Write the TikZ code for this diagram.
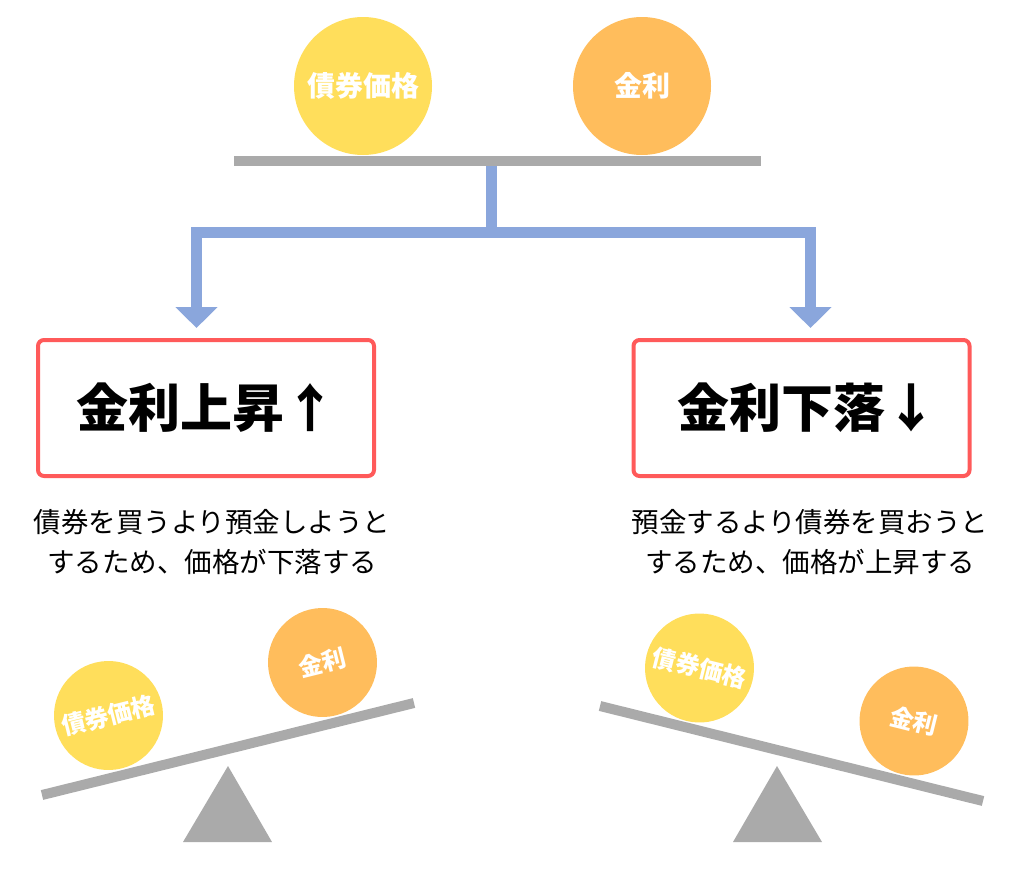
\documentclass[tikz,border=0pt]{standalone}
\usepackage{fontspec}
\newfontfamily\jp{Noto Sans CJK JP}
\usetikzlibrary{arrows.meta}
\definecolor{ybal}{HTML}{FFDE5B}
\definecolor{obal}{HTML}{FFBD5C}
\definecolor{barg}{HTML}{AAAAAA}
\definecolor{flow}{HTML}{8AA6DC}
\definecolor{boxr}{HTML}{FF5A5A}
\tikzset{
  bigball/.style={circle, minimum size=138pt, inner sep=0pt, text=white, font=\jp\bfseries\fontsize{28}{28}\selectfont},
  ball/.style={circle, minimum size=109pt, inner sep=0pt, text=white, font=\jp\bfseries\fontsize{24}{24}\selectfont},
  beam/.style={barg, line width=10pt},
  flowline/.style={flow, line width=11pt, line join=miter},
  titlebox/.style={draw=boxr, line width=4pt, rounded corners=6pt, minimum width=336pt, minimum height=136pt, inner sep=0pt, font=\jp\bfseries\fontsize{52}{52}\selectfont},
  note/.style={align=center, inner sep=0pt, font=\jp\fontsize{27.5}{40}\selectfont},
  fulcrum/.style={fill=barg}
}
\begin{document}
\begin{tikzpicture}[x=1pt,y=-1pt]
\useasboundingbox (0,0) rectangle (1024,870);
% top balance
\node[bigball, fill=ybal] (b1) at (363,86) {債券価格};
\node[bigball, fill=obal] (r1) at (642,86) {金利};
\coordinate (beamL) at (234,161);
\coordinate (beamR) at (761,161);
\draw[beam] (beamL) -- (beamR);
% flow
\coordinate (stub) at (491.5,166);
\coordinate (jn) at (491.5,232);
\coordinate (tipL) at (196.5,328);
\coordinate (tipR) at (810.5,328);
\draw[flowline] (stub) -- (jn);
\draw[flowline, {Triangle[width=41pt,length=21pt]}-{Triangle[width=41pt,length=21pt]}] (tipL) |- (jn) -| (tipR);
% boxes
\node[titlebox] (up) at (206,408) {金利上昇↑};
\node[titlebox] (down) at (801.5,408) {\hspace*{12pt}金利下落↓};
\node[note] (n1) at (212,542) {債券を買うより預金しようと\\するため、価格が下落する};
\node[note] (n2) at (810,542) {預金するより債券を買おうと\\するため、価格が上昇する};
% bottom left seesaw
\coordinate (sl1) at (42,795);
\coordinate (sl2) at (414,703);
\draw[beam] (sl1) -- (sl2);
\fill[fulcrum] (183,842) -- (228,766) -- (272,842) -- cycle;
\node[ball, fill=ybal, rotate=14] (b2) at (108.5,715.5) {債券価格};
\node[ball, fill=obal, rotate=14] (r2) at (322.5,662.5) {金利};
% bottom right seesaw
\coordinate (sr1) at (600,706);
\coordinate (sr2) at (983,801);
\draw[beam] (sr1) -- (sr2);
\fill[fulcrum] (733,842) -- (777,766) -- (822,842) -- cycle;
\node[ball, fill=ybal, rotate=-14] (b3) at (699.5,668) {債券価格};
\node[ball, fill=obal, rotate=-14] (r3) at (914,721) {金利};
\end{tikzpicture}
\end{document}
